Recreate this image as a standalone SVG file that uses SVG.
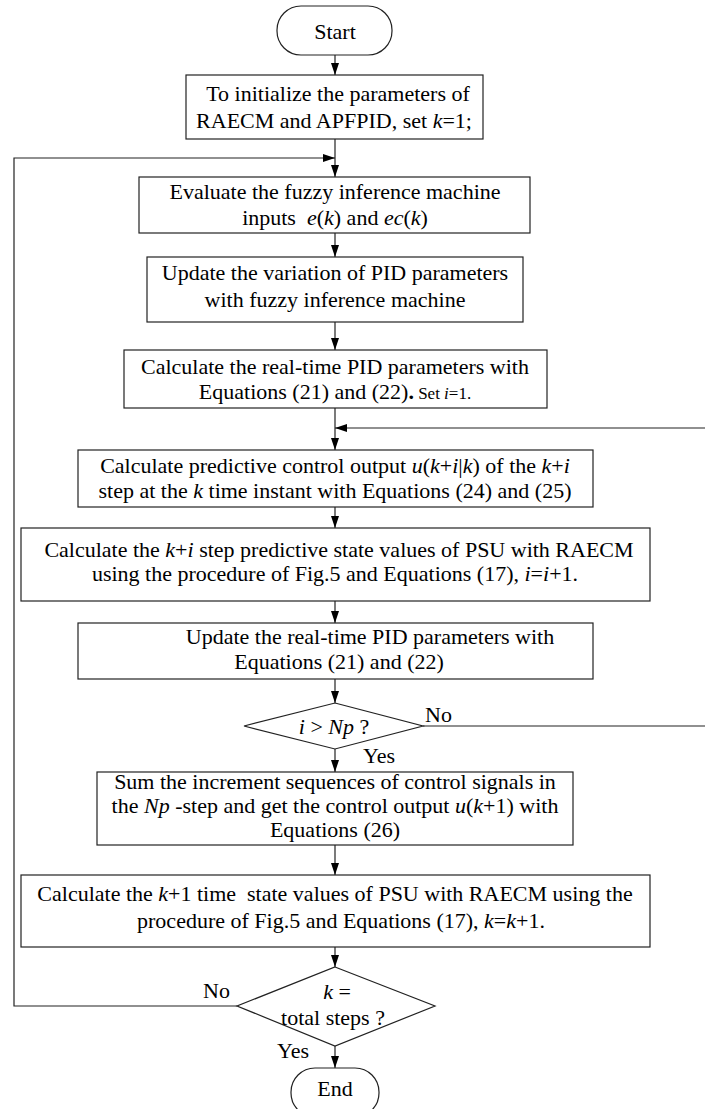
<svg xmlns="http://www.w3.org/2000/svg" width="705" height="1109" viewBox="0 0 705 1109">
<style>
  .box { fill: #ffffff; stroke: #222222; stroke-width: 1.2; }
  .t { font-family: "Liberation Serif", "Times New Roman", serif; font-size: 22px; fill: #000000; text-anchor: middle; white-space: pre; }
  .i { font-style: italic; }
  .small { font-size: 17px; }
  .lbl { font-family: "Liberation Serif", "Times New Roman", serif; font-size: 22px; fill: #000000; }
  .c { fill: none; stroke: #222222; stroke-width: 1.2; }
</style>
<defs>
  <marker id="ah" viewBox="0 0 12 8" refX="12" refY="4" markerWidth="12" markerHeight="8" markerUnits="userSpaceOnUse" orient="auto">
    <path d="M0,0 L12,4 L0,8 z" fill="#000000"/>
  </marker>
</defs>
<rect width="705" height="1109" fill="#ffffff"/>

<g id="connectors">
  <path class="c" d="M335,55 V75" marker-end="url(#ah)"/>
  <path class="c" d="M335,139 V177" marker-end="url(#ah)"/>
  <path class="c" d="M237,1006 H14 V158 H335" marker-end="url(#ah)"/>
  <path class="c" d="M335,233 V257" marker-end="url(#ah)"/>
  <path class="c" d="M335,322 V350" marker-end="url(#ah)"/>
  <path class="c" d="M335,408 V450" marker-end="url(#ah)"/>
  <path class="c" d="M423,726 H707 V428 H335" marker-end="url(#ah)"/>
  <path class="c" d="M335,507 V528" marker-end="url(#ah)"/>
  <path class="c" d="M335,601 V623" marker-end="url(#ah)"/>
  <path class="c" d="M335,679 V703" marker-end="url(#ah)"/>
  <path class="c" d="M335,749 V772" marker-end="url(#ah)"/>
  <path class="c" d="M335,845 V875" marker-end="url(#ah)"/>
  <path class="c" d="M335,947 V967" marker-end="url(#ah)"/>
  <path class="c" d="M335,1046 V1068" marker-end="url(#ah)"/>
</g>

<g id="start">
  <rect class="box" x="277" y="6" width="115" height="49" rx="24" ry="24"/>
  <text class="t" x="335" y="39">Start</text>
</g>

<g id="init">
  <rect class="box" x="186" y="75" width="297" height="64"/>
  <text class="t" x="338" y="101">To initialize the parameters of</text>
  <text class="t" x="334" y="128">RAECM and APFPID, set <tspan class="i">k</tspan>=1;</text>
</g>

<g id="evaluate">
  <rect class="box" x="139" y="177" width="391" height="56"/>
  <text class="t" x="335" y="199">Evaluate the fuzzy inference machine</text>
  <text class="t" x="335" y="225">inputs  <tspan class="i">e</tspan>(<tspan class="i">k</tspan>) and <tspan class="i">ec</tspan>(<tspan class="i">k</tspan>)</text>
</g>

<g id="update-variation">
  <rect class="box" x="147" y="257" width="376" height="65"/>
  <text class="t" x="335" y="280">Update the variation of PID parameters</text>
  <text class="t" x="335" y="307">with fuzzy inference machine</text>
</g>

<g id="calc-realtime">
  <rect class="box" x="124" y="350" width="423" height="58"/>
  <text class="t" x="335" y="374">Calculate the real-time PID parameters with</text>
  <text class="t" x="335" y="399">Equations (21) and (22)<tspan font-weight="bold">.</tspan><tspan class="small"> Set <tspan class="i">i</tspan>=1.</tspan></text>
</g>

<g id="predictive">
  <rect class="box" x="78" y="450" width="515" height="57"/>
  <text class="t" x="335" y="473">Calculate predictive control output <tspan class="i">u</tspan>(<tspan class="i">k</tspan>+<tspan class="i">i</tspan>|<tspan class="i">k</tspan>) of the <tspan class="i">k</tspan>+<tspan class="i">i</tspan></text>
  <text class="t" x="335" y="498">step at the <tspan class="i">k</tspan> time instant with Equations (24) and (25)</text>
</g>

<g id="state-ki">
  <rect class="box" x="21" y="528" width="629" height="73"/>
  <text class="t" x="339" y="557">Calculate the <tspan class="i">k</tspan>+<tspan class="i">i</tspan> step predictive state values of PSU with RAECM</text>
  <text class="t" x="335" y="581">using the procedure of Fig.5 and Equations (17), <tspan class="i">i</tspan>=<tspan class="i">i</tspan>+1.</text>
</g>

<g id="update-realtime">
  <rect class="box" x="78" y="623" width="515" height="56"/>
  <text class="t" x="370" y="644">Update the real-time PID parameters with</text>
  <text class="t" x="339" y="669">Equations (21) and (22)</text>
</g>

<g id="decision-np">
  <polygon class="box" points="335,703 423,726 335,749 244,726"/>
  <text class="t" x="334" y="734"><tspan class="i">i</tspan> &gt; <tspan class="i">Np</tspan> ?</text>
  <text class="lbl" x="425" y="722">No</text>
  <text class="lbl" x="363" y="763">Yes</text>
</g>

<g id="sum">
  <rect class="box" x="97" y="772" width="476" height="73"/>
  <text class="t" x="335" y="789">Sum the increment sequences of control signals in</text>
  <text class="t" x="335" y="813">the <tspan class="i">Np</tspan> -step and get the control output <tspan class="i">u</tspan>(<tspan class="i">k</tspan>+1) with</text>
  <text class="t" x="335" y="837">Equations (26)</text>
</g>

<g id="state-k1">
  <rect class="box" x="21" y="875" width="629" height="72"/>
  <text class="t" x="335" y="901">Calculate the <tspan class="i">k</tspan>+1 time  state values of PSU with RAECM using the</text>
  <text class="t" x="341" y="928">procedure of Fig.5 and Equations (17), <tspan class="i">k</tspan>=<tspan class="i">k</tspan>+1.</text>
</g>

<g id="decision-k">
  <polygon class="box" points="335,967 435,1006 335,1046 237,1006"/>
  <text class="t" x="337" y="999"><tspan class="i">k</tspan> =</text>
  <text class="t" x="333" y="1025">total steps ?</text>
  <text class="lbl" x="203" y="998">No</text>
  <text class="lbl" x="277" y="1058">Yes</text>
</g>

<g id="end">
  <rect class="box" x="291" y="1068" width="88" height="49" rx="24" ry="24"/>
  <text class="t" x="335" y="1096">End</text>
</g>
</svg>
